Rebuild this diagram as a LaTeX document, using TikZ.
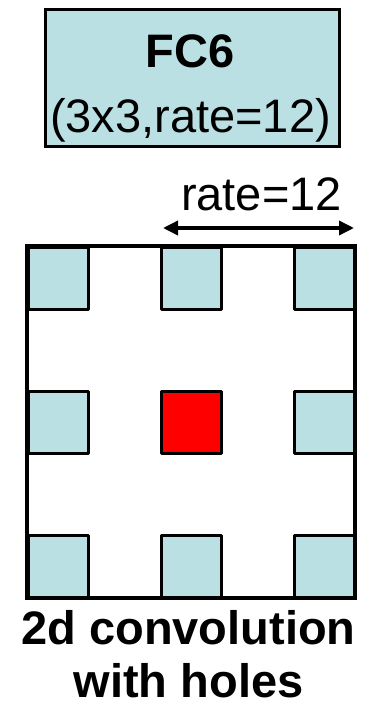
\documentclass[tikz,border=0pt]{standalone}
\usepackage{fontspec}
\setmainfont{Liberation Sans}
\usetikzlibrary{arrows.meta}
\definecolor{cellblue}{RGB}{187,224,227}
\definecolor{cellred}{RGB}{255,0,0}
\begin{document}
\begin{tikzpicture}[x=1pt,y=-1pt,
  txt/.style={inner sep=0pt,anchor=base,font=\fontsize{47}{56}\selectfont},
  btxt/.style={txt,font=\fontsize{47}{56}\selectfont\bfseries},
  cell/.style={draw=black,line width=3pt,fill=cellblue,minimum width=60pt,minimum height=62pt,inner sep=0pt,line join=round},
  redcell/.style={cell,fill=cellred},
  box/.style={draw=black,line width=3pt,fill=cellblue,minimum width=294pt,minimum height=137pt,inner sep=0pt},
  grid/.style={draw=black,line width=3.5pt,minimum width=328pt,minimum height=352pt,inner sep=0pt}]
\useasboundingbox (0,0) rectangle (371,704);
\node[box] (fc6) at (192,77.5) {};
\node[btxt] (fc6a) at (190,67) {FC6};
\node[txt] (fc6b) at (190.5,132) {(3x3,rate=12)};
\node[txt] (rate) at (261.5,210) {rate=12};
\coordinate (al) at (163,228);
\coordinate (ar) at (354,228);
\draw[line width=3.5pt,{Triangle[length=15pt,width=14pt]}-{Triangle[length=15pt,width=14pt]}] (al) -- (ar);
\node[grid] (sq) at (191,422) {};
\node[cell] (c11) at (58,278) {};
\node[cell] (c12) at (191.5,278) {};
\node[cell] (c13) at (324.5,278) {};
\node[cell] (c21) at (58,422.5) {};
\node[redcell] (c22) at (191.5,422.5) {};
\node[cell] (c23) at (324.5,422.5) {};
\node[cell] (c31) at (58,566.5) {};
\node[cell] (c32) at (191.5,566.5) {};
\node[cell] (c33) at (324.5,566.5) {};
\node[btxt] (cap1) at (188.5,644) {2d convolution};
\node[btxt,text depth=0pt] (cap2) at (188.5,697) {with holes};
\end{tikzpicture}
\end{document}
